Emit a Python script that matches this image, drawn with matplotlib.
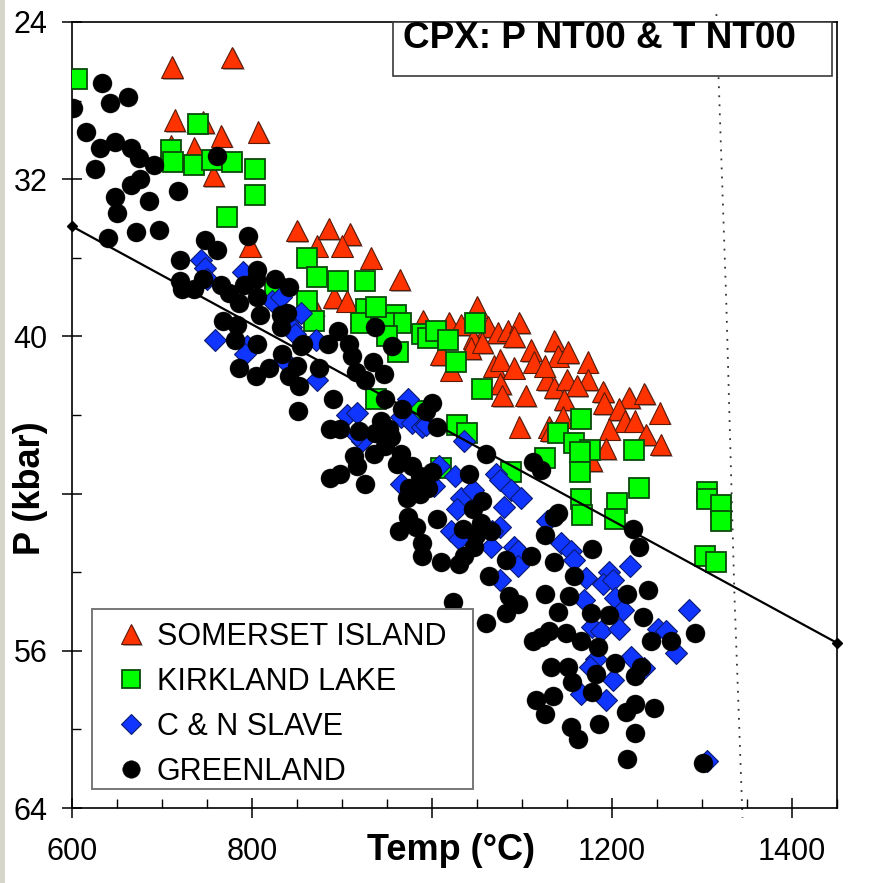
import matplotlib
matplotlib.use("Agg")
import matplotlib.pyplot as plt
import matplotlib.patheffects as pe
from matplotlib.patches import Rectangle
from matplotlib.ticker import MultipleLocator, FixedLocator, FixedFormatter

plt.rcParams['font.family'] = ['Liberation Sans', 'DejaVu Sans']

# ---------------- data ----------------
som_T = [711, 778, 714, 746, 766, 807, 736, 757, 710, 850, 872, 798, 885, 909, 900, 932, 964,
         891, 905, 868, 990, 1019, 1032, 1050, 1062, 1073, 1046, 1010, 1021, 1043, 1056, 1084,
         1097, 1091, 1069, 1076, 1091, 1076, 1078, 1104, 1110, 1113, 1128, 1136, 1140, 1097,
         1130, 1136, 1151, 1125, 1173, 1150, 1173, 1161, 1147, 1190, 1191, 1219, 1236, 1208,
         1214, 1225, 1253, 1197, 1238, 1254, 1193, 1145, 1132, 1177]
som_P = [26.3, 25.8, 29.0, 29.1, 29.8, 29.6, 30.4, 31.8, 30.3, 34.6, 35.4, 35.4, 34.5, 34.8, 35.4,
         36.0, 37.1, 38.0, 38.2, 38.4, 39.2, 39.3, 39.4, 38.5, 39.5, 39.8, 40.1, 40.9, 41.7, 40.6,
         40.3, 39.7, 39.3, 40.0, 41.5, 41.2, 41.6, 42.4, 43.0, 43.0, 40.7, 41.3, 42.2, 40.2, 41.0,
         44.6, 44.6, 42.6, 40.8, 41.5, 41.3, 42.2, 42.2, 42.5, 43.2, 42.8, 43.4, 43.1, 42.9, 43.7,
         44.3, 44.3, 43.9, 44.7, 45.0, 45.5, 45.7, 44.1, 44.8, 46.3]

kirk_T = [605, 740, 710, 712, 735, 756, 778, 803, 803, 772, 861, 872, 861, 869, 826, 896, 925,
          927, 921, 960, 965, 947, 950, 962, 989, 995, 1004, 1018, 1027, 1048, 1055, 938, 984,
          1028, 1039, 1140, 1165, 1158, 1175, 1164, 1164, 1126, 1224, 1230, 1165, 1167, 1206,
          1203, 1305, 1306, 1321, 1321, 1303, 1316, 1088, 1010, 938]
kirk_P = [26.9, 29.2, 30.5, 31.1, 31.3, 31.0, 31.1, 31.5, 32.8, 33.9, 36.0, 37.0, 38.2, 39.2, 37.6,
          37.2, 37.2, 38.6, 39.3, 38.9, 39.3, 39.3, 40.0, 40.8, 39.9, 40.1, 39.7, 40.2, 41.3, 39.3,
          42.7, 43.2, 43.8, 44.5, 44.9, 44.9, 44.2, 45.4, 45.8, 45.9, 46.9, 46.2, 45.8, 47.7, 48.3,
          49.1, 48.5, 49.3, 47.9, 48.3, 48.6, 49.4, 51.2, 51.5, 46.9, 46.7, 38.5]

slave_T = [743, 748, 790, 750, 822, 832, 846, 843, 848, 871, 759, 794, 792, 835, 872, 854, 906,
           917, 973, 965, 978, 989, 1036, 922, 965, 1008, 1026, 1071, 1076, 1088, 1099, 1032,
           1028, 1045, 1021, 1076, 1128, 1143, 1091, 917, 993, 1002, 1080, 1030, 1049, 1067,
           1065, 1095, 1095, 1076, 1154, 1158, 1171, 1197, 1190, 1201, 1203, 1220, 1169, 1212,
           1178, 1188, 1208, 1251, 1260, 1271, 1286, 1182, 1175, 1201, 1221, 1236, 1165, 1193, 1305]
slave_P = [36.1, 36.5, 36.7, 37.1, 38.2, 38.0, 39.0, 39.5, 39.9, 40.2, 40.2, 40.5, 40.9, 41.2,
           42.2, 38.8, 44.0, 43.9, 43.2, 44.1, 44.4, 44.6, 45.3, 45.3, 47.5, 46.6, 47.1, 47.0,
           47.3, 47.8, 48.2, 48.2, 48.8, 47.8, 49.9, 49.7, 49.4, 50.5, 50.7, 45.0, 44.5, 47.6,
           48.7, 50.3, 50.0, 49.9, 50.7, 50.9, 51.7, 52.4, 50.9, 51.4, 52.3, 52.0, 52.6, 52.4,
           53.3, 51.7, 53.4, 53.9, 54.8, 55.0, 54.9, 54.9, 55.0, 56.1, 53.9, 56.4, 56.8, 57.5,
           56.3, 56.9, 58.2, 58.5, 61.6]

green_T = [601, 633, 642, 662, 616, 631, 648, 665, 674, 691, 626, 676, 666, 718, 761, 648, 685,
           650, 640, 671, 697, 795, 748, 761, 720, 806, 720, 722, 735, 746, 765, 774, 785, 791,
           804, 826, 841, 806, 809, 768, 783, 781, 806, 832, 839, 832, 833, 854, 850, 785, 804,
           819, 841, 852, 874, 851, 896, 884, 908, 911, 937, 956, 934, 915, 926, 947, 857, 890,
           948, 967, 1000, 993, 1006, 887, 898, 919, 943, 952, 937, 954, 935, 948, 965, 913, 917,
           887, 898, 925, 961, 978, 987, 1000, 995, 974, 972, 987, 1060, 1041, 1112, 1121, 1056,
           1045, 1006, 973, 963, 982, 989, 989, 1010, 1034, 1054, 1049, 1065, 1047, 1036, 1030,
           1063, 1082, 1110, 1086, 1095, 1082, 1060, 1023, 1126, 1136, 1126, 1136, 1140, 1130,
           1112, 1121, 1132, 1140, 1223, 1230, 1178, 1158, 1152, 1217, 1240, 1177, 1197, 1234,
           1149, 1165, 1184, 1243, 1266, 1292, 1151, 1156, 1182, 1203, 1225, 1232, 1115, 1134,
           1126, 1178, 1216, 1225, 1247, 1154, 1162, 1186, 1225, 1217, 1301]
green_P = [28.4, 27.1, 28.1, 27.8, 29.6, 30.4, 30.1, 30.4, 30.9, 31.3, 31.5, 32.0, 32.3, 32.6,
           30.8, 32.9, 33.1, 33.7, 35.0, 34.7, 34.6, 34.9, 35.1, 35.6, 36.1, 36.6, 37.2, 37.6,
           37.6, 37.1, 37.4, 37.8, 38.3, 37.4, 37.1, 37.1, 37.5, 38.0, 38.9, 39.2, 39.4, 40.2,
           40.4, 38.9, 38.8, 39.5, 40.9, 40.5, 41.5, 41.6, 42.0, 41.6, 42.0, 42.5, 41.6, 43.8,
           39.7, 40.4, 40.4, 41.0, 39.5, 40.5, 41.3, 41.8, 42.2, 41.9, 40.4, 43.2, 43.2, 43.7,
           43.4, 43.8, 44.6, 44.7, 44.7, 44.8, 44.3, 44.7, 44.9, 45.1, 46.0, 45.6, 46.0, 46.1,
           46.6, 47.2, 47.0, 47.5, 46.5, 46.6, 47.1, 46.9, 47.7, 47.7, 48.2, 48.0, 46.0, 47.0,
           46.4, 46.8, 48.4, 48.8, 49.3, 49.2, 49.9, 49.7, 50.5, 51.2, 51.5, 49.8, 49.5, 50.1,
           49.9, 50.7, 51.2, 51.6, 52.2, 51.4, 51.2, 53.2, 53.6, 54.1, 54.6, 53.5, 53.1, 49.2,
           50.1, 51.5, 54.0, 55.0, 55.5, 55.3, 56.8, 49.0, 49.8, 50.7, 50.8, 52.2, 53.2, 53.1,
           52.9, 54.1, 54.2, 54.3, 55.1, 55.5, 55.8, 55.5, 55.5, 55.1, 56.8, 57.6, 57.2, 56.6,
           57.3, 56.8, 58.5, 58.3, 59.2, 58.1, 59.1, 58.7, 58.9, 59.9, 60.5, 59.7, 60.2, 61.5, 61.7]

fit_T = [600, 1450]
fit_P = [34.4, 55.6]

dot_T = [1316, 1327, 1336, 1345]
dot_P = [23.6, 38.3, 53.1, 64.5]

labels = ['SOMERSET ISLAND', 'KIRKLAND LAKE', 'C & N SLAVE', 'GREENLAND']
title = 'CPX: P NT00 & T NT00'
x_ticks = [600, 800, 1000, 1200, 1400]
x_ticklabels = ['600', '800', '', '1200', '1400']
y_ticks = [24, 32, 40, 48, 56, 64]
y_ticklabels = ['24', '32', '40', '', '56', '64']

# ---------------- figure ----------------
W, H = 871, 883
fig = plt.figure(figsize=(W / 100, H / 100), dpi=100)
fig.patch.set_facecolor('white')
fig.patches.append(Rectangle((0, 0), 5 / W, 1, transform=fig.transFigure,
                             facecolor='#d5d5c9', edgecolor='none', zorder=0))

ax = fig.add_axes([72 / W, 1 - 808 / H, (837 - 72) / W, (808 - 22) / H])
ax.set_xlim(600, 1450)
ax.set_ylim(64, 24)

shadow = [pe.SimplePatchShadow(offset=(1.2, -1.2), shadow_rgbFace='#7a7a7a', alpha=0.7),
          pe.Normal()]

ax.plot(som_T, som_P, linestyle='none', marker='^', ms=15.5, mfc='#FF3300',
        mec='#5a1a08', mew=0.8, label=labels[0], zorder=3, path_effects=shadow)
ax.plot(kirk_T, kirk_P, linestyle='none', marker='s', ms=14, mfc='#00FF00',
        mec='#0a4a0a', mew=1.3, label=labels[1], zorder=4)
ax.plot(slave_T, slave_P, linestyle='none', marker='D', ms=11, mfc='#1035FF',
        mec='#0a1a70', mew=0.8, label=labels[2], zorder=5)
ax.plot(green_T, green_P, linestyle='none', marker='o', ms=13.7, mfc='black',
        mec='black', mew=0.3, label=labels[3], zorder=6)

ax.plot(fit_T, fit_P, color='black', lw=1.6, marker='D', ms=5, clip_on=False, zorder=7)
ax.plot(dot_T, dot_P, color='#333333', lw=1.3, linestyle=(0, (1, 4)), clip_on=False, zorder=2)

for s in ax.spines.values():
    s.set_linewidth(1.2)
    s.set_color('black')

ax.xaxis.set_major_locator(FixedLocator(x_ticks))
ax.xaxis.set_major_formatter(FixedFormatter(x_ticklabels))
ax.xaxis.set_minor_locator(MultipleLocator(50))
ax.yaxis.set_major_locator(FixedLocator(y_ticks))
ax.yaxis.set_major_formatter(FixedFormatter(y_ticklabels))
ax.yaxis.set_minor_locator(MultipleLocator(4))

ax.tick_params(which='major', direction='inout', length=14.4, width=1.1, labelsize=22,
               top=False, right=False)
ax.tick_params(axis='y', which='major', pad=10.5)
ax.tick_params(axis='x', which='major', pad=14)
ax.tick_params(which='minor', direction='in', length=6.5, width=1.0, top=False, right=False)

# title box
ax.add_patch(Rectangle((0.4196, 0.9313), 0.5739, 0.0687, transform=ax.transAxes,
                       facecolor='white', edgecolor='#3a3a3a', lw=1.2, zorder=8, clip_on=False))
ax.text(0.4323, 0.9673, title, transform=ax.transAxes, ha='left', va='baseline',
        fontsize=26.6, fontweight='bold', zorder=9)

# legend
ax.add_patch(Rectangle((20 / 765, 19 / 786), (473 - 92) / 765, (789 - 609) / 786,
                       transform=ax.transAxes, facecolor='white', edgecolor='#777777',
                       lw=1.4, zorder=8))
leg = ax.legend(loc='upper left', bbox_to_anchor=((112.6 - 72) / 765, (808 - 622) / 786),
                frameon=False, fontsize=22, markerscale=0.92, handlelength=1.2,
                handletextpad=0.25, labelspacing=0.49, borderpad=0.0, borderaxespad=0.0)
leg.set_zorder(9)

fig.text(451 / W, 1 - 850 / H, 'Temp (°C)', ha='center', va='center',
         fontsize=26, fontweight='bold')
fig.text(30 / W, 1 - 488 / H, 'P (kbar)', ha='center', va='center', rotation=90,
         fontsize=26, fontweight='bold')

fig.savefig('out.png', dpi=100)
